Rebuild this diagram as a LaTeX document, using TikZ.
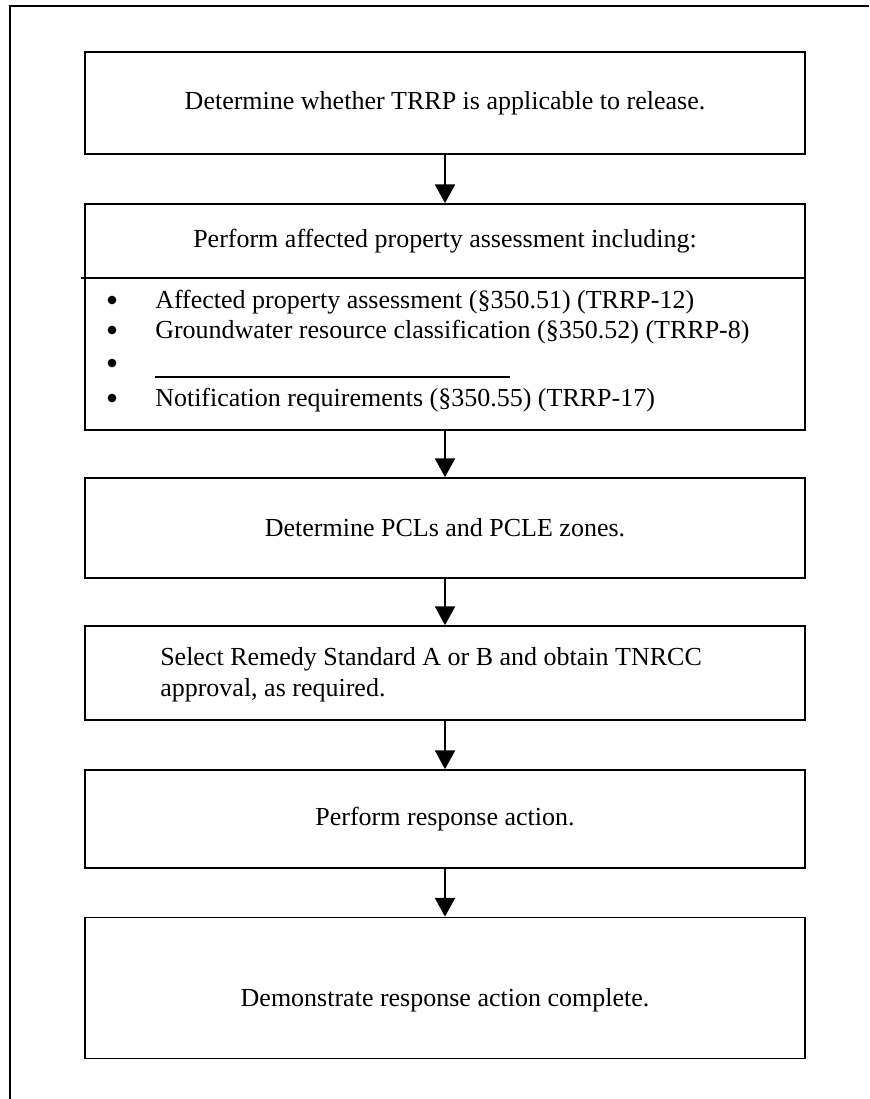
\documentclass[tikz,border=0pt]{standalone}
\usepackage{fontspec}
\setmainfont{Liberation Serif}
\usetikzlibrary{arrows.meta}
\begin{document}
\begin{tikzpicture}[x=0.75pt,y=-0.75pt,
    font=\fontsize{19.5}{23}\selectfont,
    box/.style={draw,line width=1.3pt,minimum width=540pt,inner sep=0pt,align=center},
    flow/.style={line width=1.3pt,-{Triangle[width=15pt,length=14pt]}},
    item/.style={anchor=west,inner sep=0pt},
    dot/.style={circle,fill,inner sep=0pt,minimum size=6.5pt}]
  \useasboundingbox (0,0) rectangle (869,1099);
  % page frame
  \draw[line width=1.3pt] (869,6) -- (10,6) -- (10,1099);
  \node[box,minimum height=76.5pt] (box1) at (445,103) {Determine whether TRRP is applicable to release.};
  \node[box,minimum height=169.5pt] (box2) at (445,317) {};
  \node (head) at (445,241) {Perform affected property assessment including:};
  \draw[line width=1.3pt] (81,278) -- (box2.east |- 0,278);
  \foreach \y/\n in {300/1,330/2,363/3,398/4}
    \node[dot] (dot\n) at (112,\y) {};
  \node[item] (item1) at (155,302) {Affected property assessment (§350.51) (TRRP-12)};
  \node[item] (item2) at (155,332) {Groundwater resource classification (§350.52) (TRRP-8)};
  \draw[line width=1.3pt] (155,377) -- (510,377);
  \node[item] (item4) at (155,400) {Notification requirements (§350.55) (TRRP-17)};
  \node[box,minimum height=75pt] (box3) at (445,528) {Determine PCLs and PCLE zones.};
  \node[box,minimum height=70.5pt] (box4) at (445,673) {};
  \node[item,align=flush left] (text4) at (160,675)
    {Select Remedy Standard A or B and obtain TNRCC\\approval, as required.};
  \node[box,minimum height=73.5pt] (box5) at (445,819) {Perform response action.};
  \node[box,minimum height=105.75pt] (box6) at (445,988) {};
  \node (text6) at (445,1000) {Demonstrate response action complete.};
  \draw[flow] (box1) -- (box2);
  \draw[flow] (box2) -- (box3);
  \draw[flow] (box3) -- (box4);
  \draw[flow] (box4) -- (box5);
  \draw[flow] (box5) -- (box6);
\end{tikzpicture}
\end{document}
